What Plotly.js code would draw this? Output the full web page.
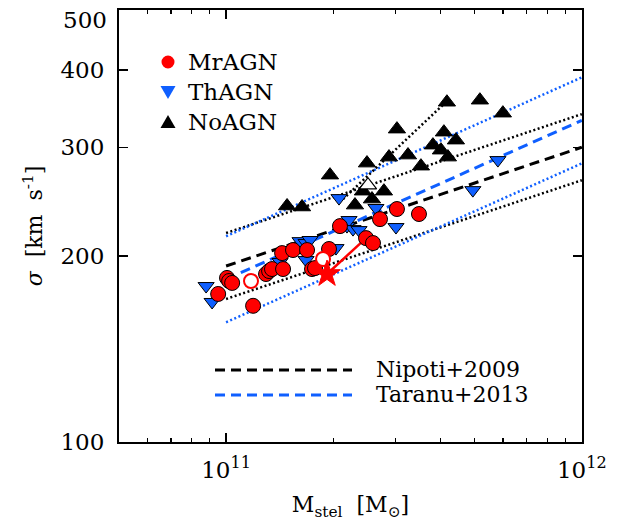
<!DOCTYPE html>
<html>
<head>
<meta charset="utf-8">
<script src="https://cdn.plot.ly/plotly-3.0.1.min.js"></script>
<style>html,body{margin:0;padding:0;background:#fff;}</style>
</head>
<body>
<div id="chart" style="width:620px;height:521px;"></div>
<script>
// ---- data ----
const mrM = [9.50e10, 1.006e11, 1.020e11, 1.040e11, 1.191e11, 1.295e11, 1.321e11, 1.346e11, 1.437e11, 1.446e11,
             1.542e11, 1.689e11, 1.744e11, 1.778e11, 1.947e11, 2.090e11, 2.474e11, 2.588e11, 2.708e11, 3.022e11, 3.485e11];
const mrSig = [173.6, 184.3, 182.2, 180.9, 166.1, 187.0, 189.1, 190.5, 202.2, 190.5,
               204.5, 204.5, 190.5, 191.2, 205.3, 223.6, 213.8, 209.9, 229.5, 238.3, 233.9];
const mrOpenM = [1.175e11, 1.873e11];
const mrOpenSig = [182.2, 197.8];
const starM = [1.922e11];
const starSig = [187.0];
const connM = [1.922e11, 2.474e11];
const connSig = [187.0, 213.8];

const thM = [8.787e10, 9.135e10, 1.418e11, 1.614e11, 1.678e11, 1.722e11, 1.678e11, 2.037e11, 2.077e11,
             2.187e11, 2.216e11, 2.274e11, 2.364e11, 2.638e11, 3.003e11, 4.940e11, 5.808e11];
const thSig = [178.8, 168.5, 195.6, 211.4, 209.9, 212.3, 197.0, 206.0, 248.2,
               223.6, 228.7, 221.1, 220.3, 239.2, 222.8, 255.7, 286.0];

const noM = [1.484e11, 1.635e11, 1.959e11, 2.303e11, 2.425e11, 2.489e11, 2.571e11, 2.778e11, 2.870e11, 3.022e11,
             3.246e11, 3.530e11, 3.815e11, 4.017e11, 4.096e11, 4.176e11, 4.203e11, 4.427e11, 5.170e11, 5.999e11];
const noSig = [241.0, 240.1, 270.4, 241.8, 254.7, 282.8, 247.3, 254.7, 289.2, 321.0,
               291.4, 279.6, 302.4, 296.8, 317.4, 354.9, 289.2, 308.1, 357.6, 340.7];
const noOpenM = [2.505e11];
const noOpenSig = [260.5];

// relations
const nipM = [1.0e11, 1.0e12];
const nipSig = [192.7, 300.0];
const nipHiSig = [217.9, 339.5];
const nipLoSig = [170.4, 265.3];
const tarM = [1.1e11, 1.0e12];
const tarSig = [187.9, 331.7];
const tarBandM = [1.0e11, 1.0e12];
const tarHiSig = [215.3, 389.4];
const tarLoSig = [156.2, 282.5];
const noFitM = [2.132e11, 4.176e11];
const noFitSig = [247.3, 356.3];

const yTicks = [100, 200, 300, 400, 500];
const yTickText = ['100', '200', '300', '400', '500'];
const xTicks = [1e11, 1e12];
const xTickText = ['10<sup>11</sup>', '10<sup>12</sup>'];
const xMinor = [6e10, 7e10, 8e10, 9e10, 2e11, 3e11, 4e11, 5e11, 6e11, 7e11, 8e11, 9e11];

const pointLegend = ['MrAGN', 'ThAGN', 'NoAGN'];
const lineLegend = ['Nipoti+2009', 'Taranu+2013'];

const RED = '#ff0000', BLUE = '#0f5fff', BLACK = '#000000';
const FONT = 'DejaVu Serif, Liberation Serif, serif';

function line(x, y, color, dash, width) {
  return {x: x, y: y, mode: 'lines', type: 'scatter', showlegend: false, hoverinfo: 'skip',
          line: {color: color, dash: dash, width: width}};
}
const DOT = '2px,2.5px', DASH = '10px,6px';

const traces = [
  line(nipM, nipHiSig, BLACK, DOT, 2.5),
  line(nipM, nipLoSig, BLACK, DOT, 2.5),
  line(tarBandM, tarHiSig, BLUE, DOT, 2.5),
  line(tarBandM, tarLoSig, BLUE, DOT, 2.5),
  line(noFitM, noFitSig, BLACK, DOT, 2.5),
  line(nipM, nipSig, BLACK, DASH, 3),
  line(tarM, tarSig, BLUE, DASH, 3),
  {x: thM, y: thSig, mode: 'markers', type: 'scatter', showlegend: false,
   marker: {symbol: 'triangle-down', size: 14, color: BLUE, line: {color: BLACK, width: 1}}},
  {x: noM, y: noSig, mode: 'markers', type: 'scatter', showlegend: false,
   marker: {symbol: 'triangle-up', size: 15, color: BLACK, line: {color: BLACK, width: 1}}},
  {x: noOpenM, y: noOpenSig, mode: 'markers', type: 'scatter', showlegend: false,
   marker: {symbol: 'triangle-up', size: 15, color: '#ffffff', line: {color: BLACK, width: 1.2}}},
  line(connM, connSig, RED, 'solid', 2.5),
  {x: mrM, y: mrSig, mode: 'markers', type: 'scatter', showlegend: false,
   marker: {symbol: 'circle', size: 15, color: RED, line: {color: BLACK, width: 1}}},
  {x: mrOpenM, y: mrOpenSig, mode: 'markers', type: 'scatter', showlegend: false,
   marker: {symbol: 'circle', size: 14, color: '#ffffff', line: {color: RED, width: 2}}},
  {x: starM, y: starSig, mode: 'markers', type: 'scatter', showlegend: false,
   marker: {symbol: 'star', size: 20, color: RED, line: {color: RED, width: 1}}}
];

// plot-area pixel geometry helpers for legend placement (paper coordinates)
const PL = 119, PR = 582, PT = 10, PB = 442;
const px = v => (v - PL) / (PR - PL);
const py = v => (PB - v) / (PB - PT);

const shapes = [];
const annotations = [];
// point legend (top left)
const legY = [62, 92, 122];
const symX = 168, txtX = 186;
shapes.push({type: 'circle', xref: 'paper', yref: 'paper', x0: px(symX - 6.5), x1: px(symX + 6.5),
             y0: py(legY[0] + 6.5), y1: py(legY[0] - 6.5), fillcolor: RED, line: {width: 0}});
shapes.push({type: 'path', xref: 'paper', yref: 'paper',
             path: `M ${px(symX - 7.5)} ${py(legY[1] - 6)} L ${px(symX + 7.5)} ${py(legY[1] - 6)} L ${px(symX)} ${py(legY[1] + 7)} Z`,
             fillcolor: BLUE, line: {width: 0}});
shapes.push({type: 'path', xref: 'paper', yref: 'paper',
             path: `M ${px(symX - 7.5)} ${py(legY[2] + 6)} L ${px(symX + 7.5)} ${py(legY[2] + 6)} L ${px(symX)} ${py(legY[2] - 7)} Z`,
             fillcolor: BLACK, line: {width: 0}});
pointLegend.forEach((t, i) => annotations.push({xref: 'paper', yref: 'paper', x: px(txtX), y: py(legY[i]),
  xanchor: 'left', yanchor: 'middle', text: t, showarrow: false, font: {family: FONT, size: 23, color: BLACK}}));

// line legend (bottom)
const lineY = [370, 395];
const lineColors = [BLACK, BLUE];
lineLegend.forEach((t, i) => {
  shapes.push({type: 'line', xref: 'paper', yref: 'paper', x0: px(215), x1: px(352), y0: py(lineY[i]), y1: py(lineY[i]),
               line: {color: lineColors[i], width: 3, dash: DASH}});
  annotations.push({xref: 'paper', yref: 'paper', x: px(374), y: py(lineY[i] - 1), xanchor: 'left', yanchor: 'middle',
                    text: t, showarrow: false, font: {family: FONT, size: 22, color: BLACK}});
});

// the topmost y tick label sits just below the frame edge in the reference
const topLabel = yTickText[yTickText.length - 1];
annotations.push({xref: 'paper', yref: 'paper', x: px(109), y: py(20), xanchor: 'right', yanchor: 'middle',
                  text: topLabel, showarrow: false, font: {family: FONT, size: 23, color: BLACK}});
const yTickShown = yTickText.map((t, i) => i === yTickText.length - 1 ? '' : t);

const layout = {
  width: 620, height: 521,
  margin: {l: 119, r: 38, t: 10, b: 79, pad: 0},
  paper_bgcolor: '#ffffff', plot_bgcolor: '#ffffff',
  font: {family: FONT, color: BLACK, size: 22},
  showlegend: false,
  xaxis: {type: 'log', range: [Math.log10(5e10), 12.0005], tickvals: xTicks, ticktext: xTickText,
          ticks: 'inside', ticklen: 9, tickwidth: 1.5, tickcolor: BLACK,
          showline: true, linewidth: 2, linecolor: BLACK, mirror: 'allticks',
          showgrid: false, zeroline: false, ticklabelstandoff: 6, ticklabeloverflow: 'allow',
          tickfont: {family: FONT, size: 23},
          minor: {tickvals: xMinor, ticks: 'inside', ticklen: 4, tickwidth: 1.2, tickcolor: BLACK, showgrid: false},
          title: {text: 'M<sub>stel</sub>  [M<sub>⊙</sub>]', font: {family: FONT, size: 22}, standoff: 16}},
  yaxis: {type: 'log', range: [1.9998, Math.log10(500) + 0.0005], tickvals: yTicks, ticktext: yTickShown,
          ticks: 'inside', ticklen: 9, tickwidth: 1.5, tickcolor: BLACK,
          showline: true, linewidth: 2, linecolor: BLACK, mirror: 'allticks',
          showgrid: false, zeroline: false, ticklabelstandoff: 8, ticklabeloverflow: 'allow',
          tickfont: {family: FONT, size: 23},
          title: {text: '<i>σ</i>  [km  s<sup>-1</sup>]', font: {family: FONT, size: 22}, standoff: 12}},
  shapes: shapes,
  annotations: annotations
};

Plotly.newPlot('chart', traces, layout, {displayModeBar: false, staticPlot: true});
</script>
</body>
</html>
